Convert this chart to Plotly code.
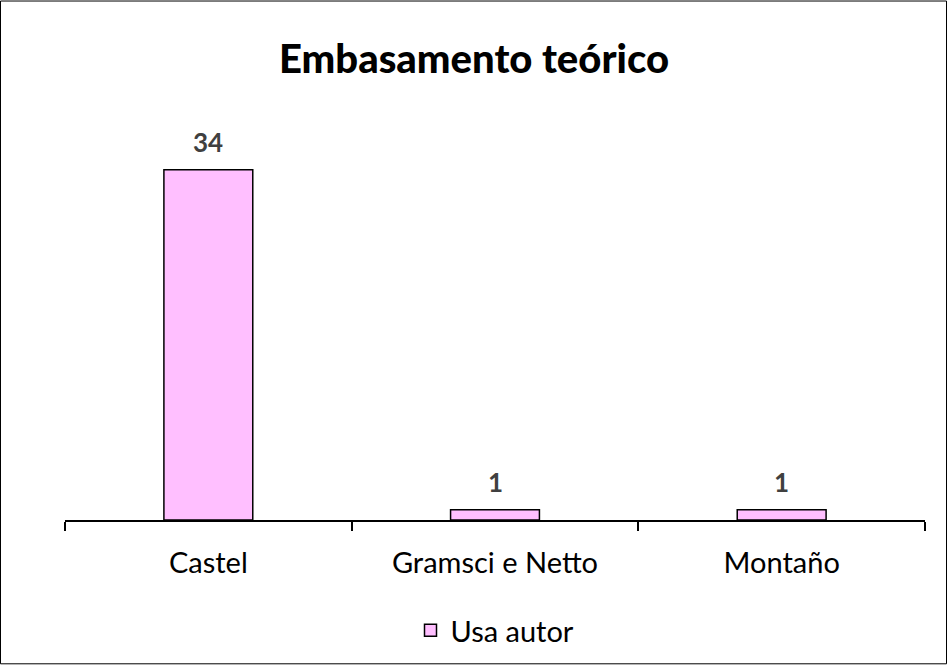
import plotly.graph_objects as go

# Data
categories = ["Castel", "Gramsci e Netto", "Montaño"]
usa_autor = [34, 1, 1]
series_name = "Usa autor"
title_text = "Embasamento teórico"

W, H = 948, 668
ml, mr, mt, mb = 65, 23, 108, 146
pw = W - ml - mr
ph = H - mt - mb

font_family = "Lato, 'Open Sans', sans-serif"

fig = go.Figure()
fig.add_trace(go.Bar(
    x=categories,
    y=usa_autor,
    name=series_name,
    width=0.31,
    marker=dict(color="rgb(255,191,255)", line=dict(color="black", width=1.5)),
    showlegend=True,
))

# Value labels above each bar
for cat, val in zip(categories, usa_autor):
    fig.add_annotation(
        x=cat, y=val, xref="x", yref="y",
        text="<b>" + str(val) + "</b>",
        showarrow=False, yanchor="bottom", yshift=10,
        font=dict(family=font_family, size=26, color="#404040"),
    )

fig.update_layout(
    width=W, height=H,
    margin=dict(l=ml, r=mr, t=mt, b=mb),
    paper_bgcolor="white",
    plot_bgcolor="white",
    title=dict(
        text=title_text,
        x=0.5, xanchor="center",
        y=1 - 59 / H, yanchor="middle",
        font=dict(family=font_family, size=40, color="black", weight=900),
    ),
    xaxis=dict(
        range=[-0.5, 2.5],
        showline=True, linecolor="black", linewidth=2,
        ticks="outside", tickson="boundaries", ticklen=9, tickwidth=2, tickcolor="black",
        tickfont=dict(family=font_family, size=29, color="black"),
        ticklabelstandoff=16,
        showgrid=False, zeroline=False,
    ),
    yaxis=dict(
        range=[0, 40],
        visible=False,
        showgrid=False, zeroline=False,
    ),
    legend=dict(
        orientation="h",
        x=0.5, xanchor="center",
        y=-(633 - (mt + ph)) / ph, yanchor="middle",
        font=dict(family=font_family, size=29, color="black"),
        itemwidth=30,
    ),
    shapes=[dict(
        type="rect", xref="paper", yref="paper",
        x0=-(ml - 0.5) / pw, x1=1 + (mr - 1.5) / pw,
        y0=-(mb - 1.5) / ph, y1=1 + (mt - 0.5) / ph,
        line=dict(color="black", width=1),
        fillcolor="rgba(0,0,0,0)",
        layer="below",
    )],
    bargap=0.69,
)

fig.write_html("out.html")
